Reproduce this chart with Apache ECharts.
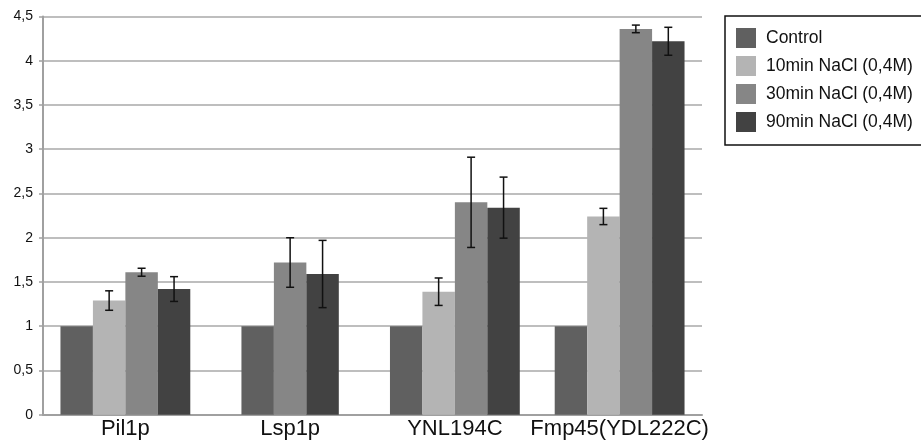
<!DOCTYPE html>
<html>
<head>
<meta charset="utf-8">
<script src="https://cdn.jsdelivr.net/npm/echarts@6/dist/echarts.min.js"></script>
<style>
html,body{margin:0;padding:0;background:#fff;}
#c{width:921px;height:444px;}
</style>
</head>
<body>
<div id="c"></div>
<script>
// ---- data ----
var categories = ['Pil1p', 'Lsp1p', 'YNL194C', 'Fmp45(YDL222C)'];
var seriesNames = ['Control', '10min NaCl (0,4M)', '30min NaCl (0,4M)', '90min NaCl (0,4M)'];
var controlValues = [1.0, 1.0, 1.0, 1.0];
var min10Values = [1.29, null, 1.39, 2.24];
var min30Values = [1.61, 1.72, 2.40, 4.36];
var min90Values = [1.42, 1.59, 2.34, 4.22];
var controlErr = [0, 0, 0, 0];
var min10Err = [0.11, null, 0.155, 0.092];
var min30Err = [0.045, 0.28, 0.51, 0.043];
var min90Err = [0.14, 0.38, 0.345, 0.158];
var yTicks = ['0', '0,5', '1', '1,5', '2', '2,5', '3', '3,5', '4', '4,5'];

var allValues = [controlValues, min10Values, min30Values, min90Values];
var allErr = [controlErr, min10Err, min30Err, min90Err];
var colors = ['#606060', '#b4b4b4', '#868686', '#424242'];

var chart = echarts.init(document.getElementById('c'), null, {renderer: 'canvas'});

function makeRender(sIdx) {
  return function (params, api) {
    var cat = api.value(0);
    var val = api.value(1);
    var err = api.value(2);
    var present = [];
    for (var s = 0; s < allValues.length; s++) {
      if (allValues[s][cat] != null) present.push(s);
    }
    var k = present.indexOf(sIdx);
    var n = present.length;
    var catW = api.size([1, 0])[0];
    var bw = catW * 0.788 / 4;
    var cx = api.coord([cat, 0])[0] + (k - (n - 1) / 2) * bw;
    var y0 = api.coord([cat, 0])[1];
    var y1 = api.coord([cat, val])[1];
    var children = [{
      type: 'rect',
      shape: {x: cx - bw / 2, y: y1, width: bw, height: y0 - y1},
      style: {fill: colors[sIdx]}
    }];
    if (err && err > 0) {
      var yt = api.coord([cat, val + err])[1];
      var yb = api.coord([cat, val - err])[1];
      var cap = 4;
      var ls = {stroke: '#111', lineWidth: 1.5};
      children.push({type: 'line', shape: {x1: cx, y1: yt, x2: cx, y2: yb}, style: ls, z2: 10});
      children.push({type: 'line', shape: {x1: cx - cap, y1: yt, x2: cx + cap, y2: yt}, style: ls, z2: 10});
      children.push({type: 'line', shape: {x1: cx - cap, y1: yb, x2: cx + cap, y2: yb}, style: ls, z2: 10});
    }
    return {type: 'group', children: children};
  };
}

var series = seriesNames.map(function (name, sIdx) {
  var data = [];
  for (var i = 0; i < categories.length; i++) {
    if (allValues[sIdx][i] != null) data.push([i, allValues[sIdx][i], allErr[sIdx][i] || 0]);
  }
  return {
    name: name,
    type: 'custom',
    renderItem: makeRender(sIdx),
    itemStyle: {color: colors[sIdx]},
    encode: {x: 0, y: 1},
    data: data,
    z: 2 + sIdx
  };
});

chart.setOption({
  animation: false,
  backgroundColor: '#fff',
  grid: {left: 43, right: 219, top: 16.5, bottom: 29.3, containLabel: false},
  legend: {
    orient: 'vertical',
    left: 725,
    top: 16,
    padding: [12, 30, 13, 11],
    itemWidth: 20,
    itemHeight: 20,
    itemGap: 8,
    icon: 'rect',
    borderColor: '#111',
    borderWidth: 1.5,
    textStyle: {fontFamily: 'Liberation Sans, Arial, sans-serif', fontSize: 17.5, color: '#111', padding: [0, 0, 0, 5]},
    data: seriesNames
  },
  xAxis: {
    type: 'category',
    data: categories,
    boundaryGap: true,
    axisLine: {show: true, lineStyle: {color: '#a0a0a0', width: 2}},
    axisTick: {show: false},
    axisLabel: {fontFamily: 'Liberation Sans, Arial, sans-serif', fontSize: 22, color: '#111', margin: 3, interval: 0},
    splitLine: {show: false}
  },
  yAxis: {
    type: 'value',
    min: 0,
    max: 4.5,
    interval: 0.5,
    axisLine: {show: true, lineStyle: {color: '#a0a0a0', width: 2}},
    axisTick: {show: true, length: 4, lineStyle: {color: '#a0a0a0', width: 1.5}},
    axisLabel: {
      fontFamily: 'Liberation Sans, Arial, sans-serif', fontSize: 14, color: '#111', margin: 10,
      formatter: function (v) { return yTicks[Math.round(v / 0.5)]; }
    },
    splitLine: {show: true, lineStyle: {color: '#a8a8a8', width: 1.5}}
  },
  series: series
});
</script>
</body>
</html>
